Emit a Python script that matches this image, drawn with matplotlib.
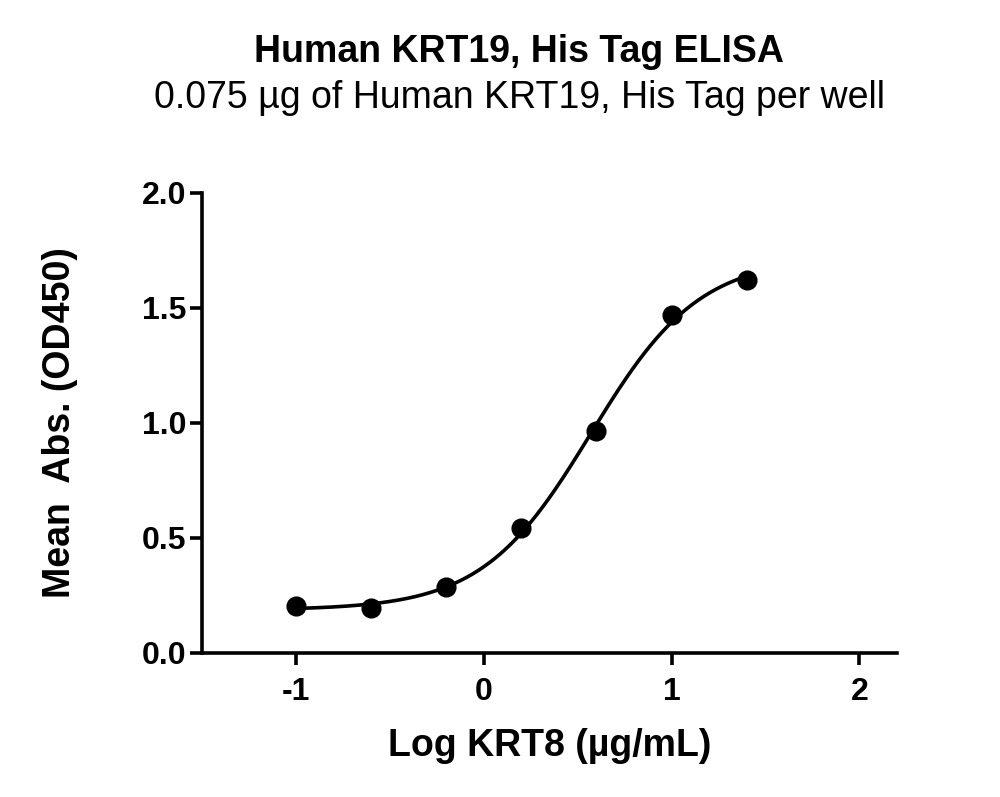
import numpy as np
import matplotlib
matplotlib.use("Agg")
import matplotlib.pyplot as plt

plt.rcParams['font.family'] = ['Liberation Sans', 'DejaVu Sans']

# log concentration of KRT8 (ug/mL) and mean OD450
log_conc = [-1.0, -0.6, -0.2, 0.2, 0.6, 1.0, 1.4]
mean_abs = [0.204, 0.194, 0.288, 0.542, 0.965, 1.470, 1.622]

title = "Human KRT19, His Tag ELISA"
subtitle = "0.075 µg of Human KRT19, His Tag per well"
x_ticks = [-1, 0, 1, 2]
y_ticks = [0.0, 0.5, 1.0, 1.5, 2.0]


def four_pl(x, bottom, top, logec50, hill):
    return bottom + (top - bottom) / (1 + 10 ** ((logec50 - x) * hill))


# fit a 4PL: grid over logEC50 / hill, bottom and top solved linearly
x = np.array(log_conc)
y = np.array(mean_abs)
best = None
for ec in np.linspace(-0.5, 1.5, 201):
    for h in np.linspace(0.3, 3.0, 136):
        s = 1 / (1 + 10 ** ((ec - x) * h))
        A = np.column_stack([1 - s, s])
        coef, *_ = np.linalg.lstsq(A, y, rcond=None)
        err = np.sum((A @ coef - y) ** 2)
        if best is None or err < best[0]:
            best = (err, coef[0], coef[1], ec, h)
_, bottom, top, logec50, hill = best

fig = plt.figure(figsize=(10, 7.97), dpi=100)
ax = fig.add_axes([0.202, 0.1807, 0.695, 0.5772])

xs = np.linspace(min(log_conc), max(log_conc), 300)
ax.plot(xs, four_pl(xs, bottom, top, logec50, hill), color='black', lw=2.6,
        clip_on=False)
ax.plot(log_conc, mean_abs, 'o', color='black', ms=13.5, clip_on=False)

ax.set_xlim(-1.5, 2.2)
ax.set_ylim(0, 2.0)
ax.set_xticks(x_ticks)
ax.set_xticklabels([str(t) for t in x_ticks])
ax.set_yticks(y_ticks)
ax.set_yticklabels([f"{t:.1f}" for t in y_ticks])

for side in ['top', 'right']:
    ax.spines[side].set_visible(False)
for side in ['left', 'bottom']:
    ax.spines[side].set_linewidth(2.6)
ax.tick_params(axis='both', length=8.5, width=2.6, labelsize=23)
ax.tick_params(axis='x', pad=9)
ax.tick_params(axis='y', pad=3)
for lab in ax.get_xticklabels() + ax.get_yticklabels():
    lab.set_fontweight('bold')

ax.set_xlabel("Log KRT8 (µg/mL)", fontsize=27, fontweight='bold', labelpad=15)
ax.set_ylabel("Mean  Abs. (OD450)", fontsize=27, fontweight='bold', labelpad=46)

fig.text(0.519, 0.935, title, ha='center', va='center', fontsize=27,
         fontweight='bold')
fig.text(0.519, 0.877, subtitle, ha='center', va='center', fontsize=27)

fig.savefig("out.png", dpi=100)
